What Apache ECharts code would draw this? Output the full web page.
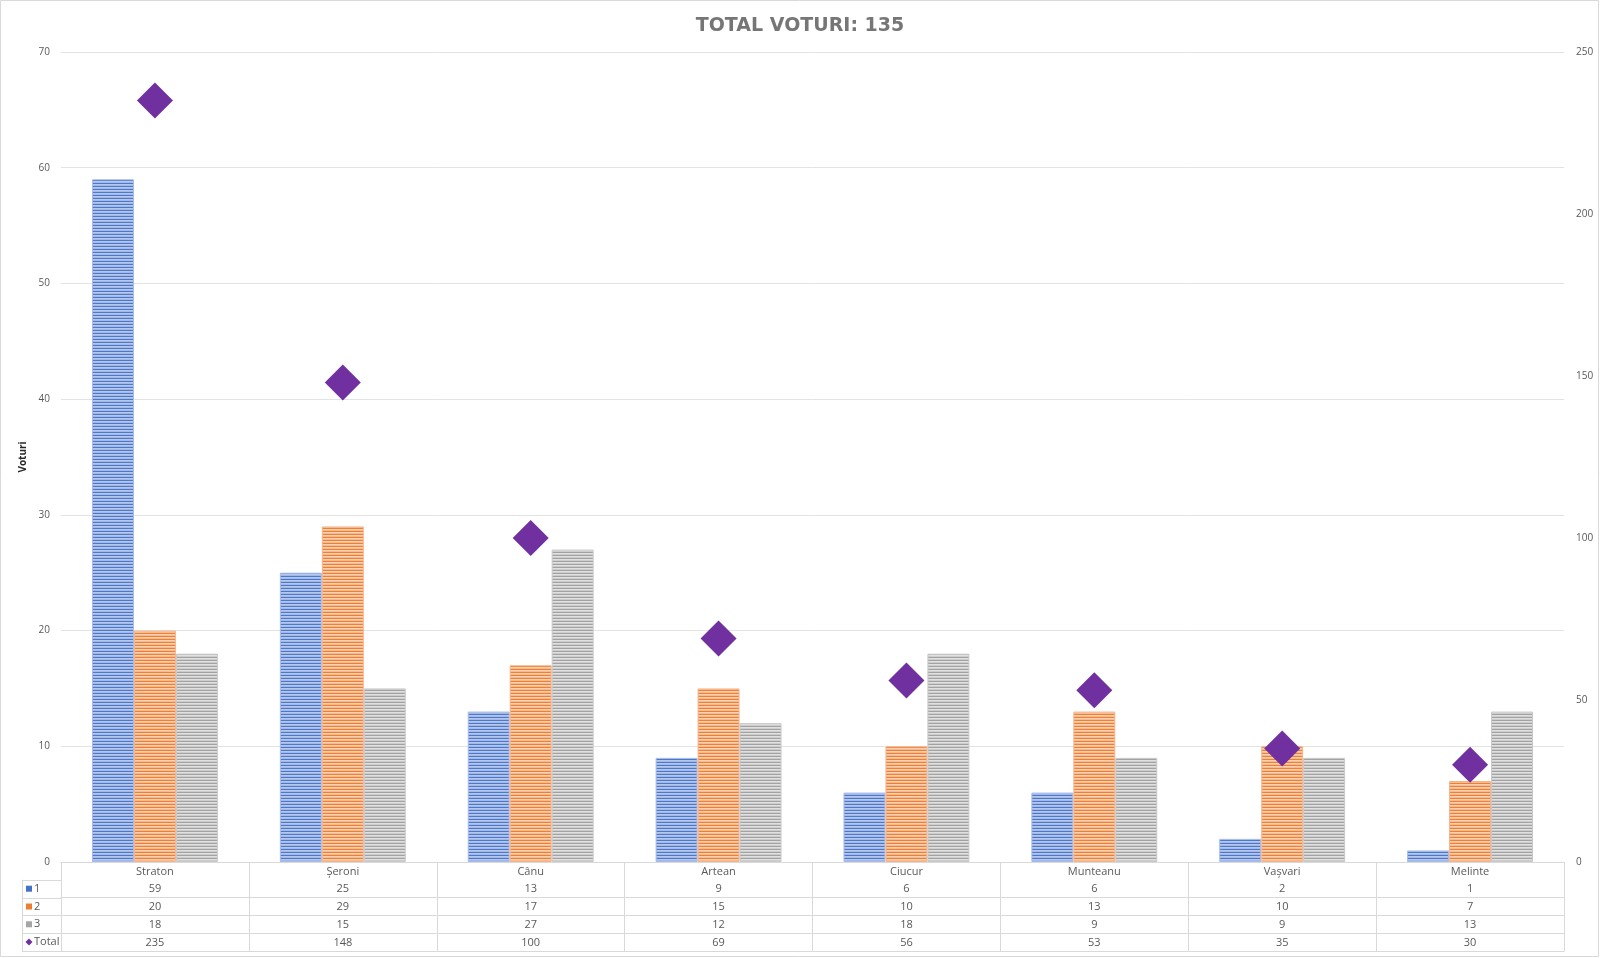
<!DOCTYPE html>
<html>
<head>
<meta charset="utf-8">
<script src="https://cdn.jsdelivr.net/npm/echarts@6/dist/echarts.min.js"></script>
<style>html,body{margin:0;padding:0;background:#fff;}#c{width:1600px;height:958px;}</style>
</head>
<body>
<div id="c"></div>
<script>
const categories = ['Straton', 'Șeroni', 'Cânu', 'Artean', 'Ciucur', 'Munteanu', 'Vașvari', 'Melinte'];
const seriesNames = ['1', '2', '3', 'Total'];
const s1 = [59, 25, 13, 9, 6, 6, 2, 1];
const s2 = [20, 29, 17, 15, 10, 13, 10, 7];
const s3 = [18, 15, 27, 12, 18, 9, 9, 13];
const total = [235, 148, 100, 69, 56, 53, 35, 30];
const leftTicks = {min: 0, max: 70, interval: 10};
const rightTicks = {min: 0, max: 250, interval: 50};

const FONT = 'Open Sans';
const GRID_L = 61, GRID_R = 36, GRID_T = 52, GRID_B = 96;
const ROW_H = 17.8;
const TABLE_TOP = 958 - GRID_B;

function stripe(dark, light, light2) {
  const c = document.createElement('canvas');
  c.width = 3; c.height = 3;
  const g = c.getContext('2d');
  g.fillStyle = light; g.fillRect(0, 0, 3, 3);
  g.fillStyle = dark; g.fillRect(0, 0, 3, 1);
  g.fillStyle = light2; g.fillRect(0, 2, 3, 1);
  return {image: c, repeat: 'repeat'};
}
const pats = [
  stripe('#4b78cc', '#b6c7ec', '#a3b8e6'),
  stripe('#f07f30', '#fad0b4', '#f7bb93'),
  stripe('#a2a2a2', '#e0e0e0', '#cdcdcd')
];
const borders = ['#a6bbe8', '#f5b38a', '#c8c8c8'];
const solid = ['#4472c4', '#ed7d31', '#a5a5a5', '#7030a0'];
const rows = [s1, s2, s3, total];

const chart = echarts.init(document.getElementById('c'), null, {renderer: 'canvas'});

const xAxes = [{
  type: 'category', data: categories, position: 'bottom', gridIndex: 0,
  axisLine: {lineStyle: {color: '#d9d9d9', width: 1}},
  axisTick: {show: true, length: ROW_H * 5, interval: 0, lineStyle: {color: '#d9d9d9'}},
  axisLabel: {color: '#595959', fontSize: 11, fontFamily: FONT, margin: 4, interval: 0}
}];
rows.forEach((r, i) => {
  xAxes.push({
    type: 'category', data: categories, position: 'bottom', offset: ROW_H * (i + 1),
    axisLine: {lineStyle: {color: '#d9d9d9', width: 1}},
    axisTick: {show: false},
    axisLabel: {color: '#595959', fontSize: 11, fontFamily: FONT, margin: 4, interval: 0,
      formatter: (v, idx) => String(r[idx])}
  });
});
xAxes.push({
  type: 'category', data: categories, position: 'bottom', offset: ROW_H * 5,
  axisLine: {lineStyle: {color: '#d9d9d9', width: 1}},
  axisTick: {show: false}, axisLabel: {show: false}
});

const graphics = [
  {type: 'rect', shape: {x: 0.5, y: 0.5, width: 1598, height: 956}, style: {fill: 'none', stroke: '#d9d9d9', lineWidth: 1}, silent: true},
  {type: 'line', shape: {x1: 22.5, y1: TABLE_TOP + ROW_H, x2: 22.5, y2: TABLE_TOP + ROW_H * 5}, style: {stroke: '#d9d9d9', lineWidth: 1}}
];
for (let i = 1; i <= 5; i++) {
  const y = Math.round(TABLE_TOP + ROW_H * i) + 0.5;
  graphics.push({type: 'line', shape: {x1: 22, y1: y, x2: GRID_L, y2: y}, style: {stroke: '#d9d9d9', lineWidth: 1}});
}
seriesNames.forEach((n, i) => {
  const cy = TABLE_TOP + ROW_H * (i + 1) + ROW_H / 2;
  if (i < 3) {
    graphics.push({type: 'rect', shape: {x: 26, y: cy - 3, width: 6, height: 6}, style: {fill: solid[i]}});
  } else {
    graphics.push({type: 'polygon', shape: {points: [[29, cy - 3.5], [32.5, cy], [29, cy + 3.5], [25.5, cy]]}, style: {fill: solid[3]}});
  }
  graphics.push({type: 'text', x: 34, y: cy, style: {text: n, fill: '#595959', font: '11px "' + FONT + '"', textVerticalAlign: 'middle', textAlign: 'left'}});
});

const series = [s1, s2, s3].map((d, i) => ({
  name: seriesNames[i], type: 'bar', xAxisIndex: 0, yAxisIndex: 0, data: d,
  barGap: '0%', barCategoryGap: '33%',
  itemStyle: {color: pats[i], borderColor: borders[i], borderWidth: 1},
  emphasis: {disabled: true}
}));
series.push({
  name: seriesNames[3], type: 'scatter', xAxisIndex: 0, yAxisIndex: 1, data: total,
  symbol: 'diamond', symbolSize: 36,
  itemStyle: {color: '#7030a0', opacity: 1}, emphasis: {disabled: true}, z: 5
});

chart.setOption({
  animation: false,
  backgroundColor: '#ffffff',
  title: {
    text: 'TOTAL VOTURI: 135', left: 'center', top: 12,
    textStyle: {color: '#767676', fontSize: 19, fontWeight: 'bold', fontFamily: 'DejaVu Sans'}
  },
  grid: {left: GRID_L, right: GRID_R, top: GRID_T, bottom: GRID_B, containLabel: false},
  xAxis: xAxes,
  yAxis: [{
    type: 'value', min: leftTicks.min, max: leftTicks.max, interval: leftTicks.interval, position: 'left',
    name: 'Voturi', nameLocation: 'middle', nameGap: 33, nameRotate: 90,
    nameTextStyle: {color: '#262626', fontSize: 10, fontWeight: 'bold', fontFamily: FONT},
    axisLine: {show: false}, axisTick: {show: false},
    axisLabel: {color: '#595959', fontSize: 10, fontFamily: FONT, margin: 11},
    splitLine: {lineStyle: {color: '#e3e3e3', width: 1}}
  }, {
    type: 'value', min: rightTicks.min, max: rightTicks.max, interval: rightTicks.interval, position: 'right',
    axisLine: {show: false}, axisTick: {show: false},
    axisLabel: {color: '#595959', fontSize: 10, fontFamily: FONT, margin: 12},
    splitLine: {show: false}
  }],
  graphic: graphics,
  series: series
});
</script>
</body>
</html>
